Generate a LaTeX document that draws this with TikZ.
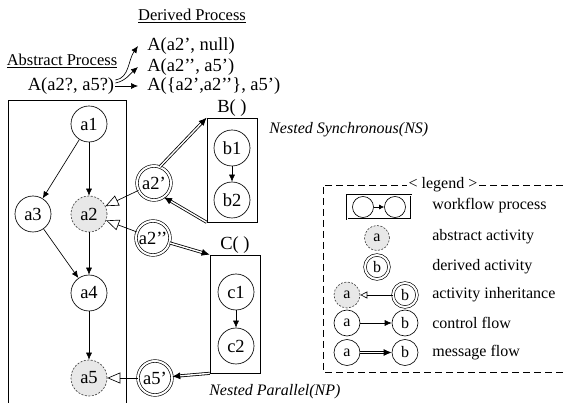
\documentclass[tikz,border=0pt]{standalone}
\usepackage{fontspec}
\setmainfont{Liberation Serif}
\usetikzlibrary{arrows.meta,positioning}

\begin{document}
\begin{tikzpicture}[x=1pt,y=-1pt,line width=0.65pt]
\tikzstyle{every node}+=[inner sep=0pt,font=\fontsize{18.5}{20}\selectfont]
\tikzstyle{txt}=[inner sep=1pt]
\tikzstyle{head}=[txt,font=\fontsize{16.5}{18}\selectfont]
\tikzstyle{note}=[txt,anchor=west,font=\fontsize{16}{18}\selectfont\itshape]
\tikzstyle{lgdtxt}=[txt,anchor=west,font=\fontsize{16}{18}\selectfont]
\tikzstyle{act}=[draw,circle,minimum size=36pt]
\tikzstyle{absact}=[act,draw=black!75,dash pattern=on 2pt off 1.5pt,fill=black!9]
\tikzstyle{der}=[act,double,double distance=2pt,minimum size=34pt]
\tikzstyle{proc}=[draw,rectangle]
\tikzstyle{small}=[minimum size=26pt,font=\fontsize{16}{18}\selectfont]
\tikzstyle{ctrl}=[-{Latex[length=7pt,width=6pt]}]
\tikzstyle{msg}=[line width=0.8pt,double,double distance=1.4pt,-{Latex[length=8pt,width=7pt]}]
\tikzstyle{inh}=[-{Triangle[open,length=13pt,width=11pt]}]
\tikzstyle{lgd}=[dash pattern=on 7pt off 4pt]
\useasboundingbox (0,0) rectangle (563,403);

\node[head] (derp) at (192,16) {\underline{Derived Process}};
\node[head] (absp) at (62,61) {\underline{Abstract Process}};
\node[txt] (absA) at (71,86) {A(a2?, a5?)};
\node[txt,anchor=west,inner xsep=9pt] (d1) at (138,46) {A(a2’, null)};
\node[txt,anchor=west,inner xsep=9pt] (d2) at (138,67) {A(a2’’, a5’)};
\node[txt,anchor=west,inner xsep=9pt] (d3) at (138,86) {A(\{a2’,a2’’\}, a5’)};
\draw[ctrl] ([yshift=6pt]absA.east) .. controls +(14,-2) and +(-10,14) .. (d1.west);
\draw[ctrl] ([yshift=3pt]absA.east) .. controls +(10,-2) and +(-8,7) .. (d2.west);
\draw[ctrl] (absA.east) -- (d3.west);

\draw (8,403) -- (8,100) -- (126,100) -- (126,403);
\node[act] (a1) at (89,124) {a1};
\node[act] (a3) at (33,214) {a3};
\node[absact] (a2) at (89,214) {a2};
\node[act] (a4) at (89,293) {a4};
\node[absact] (a5) at (89,378) {a5};
\draw[ctrl] (a1) -- (a3);
\draw[ctrl] (a1) -- (a2);
\draw[ctrl] (a3) -- (a4);
\draw[ctrl] (a2) -- (a4);
\draw[ctrl] (a4) -- (a5);

\node[der] (a2p) at (154,183) {a2’};
\node[der] (a2pp) at (153,238) {a2’’};
\node[der] (a5p) at (155,378) {a5’};
\draw[inh] (a2p) -- (a2);
\draw[inh] (a2pp) -- (a2);
\draw[inh] (a5p) -- (a5);

\node[proc,minimum width=50pt,minimum height=104pt] (B) at (232,170) {};
\node[txt,above=0pt of B] (Bl) {B( )};
\node[act] (b1) at (232,148) {b1};
\node[act] (b2) at (232,200) {b2};
\draw[ctrl] (b1) -- (b2);
\node[proc,minimum width=50pt,minimum height=118pt] (C) at (235,314) {};
\node[txt,above=0pt of C] (Cl) {C( )};
\node[act] (c1) at (236,292) {c1};
\node[act] (c2) at (236,346) {c2};
\draw[ctrl] (c1) -- (c2);
\draw[msg] (a2p.70) -- (B.north west);
\draw[msg] (B.south west) -- (a2p.-55);
\draw[msg] (a2pp) -- (C.north west);
\draw[msg] (C.south west) -- (a5p);

\node[note] (ns) at (268,130) {Nested Synchronous(NS)};
\node[note] (np) at (208,392) {Nested Parallel(NP)};

\draw[lgd] (563,185) -- (323,185) -- (323,372) -- (563,372);
\node[lgdtxt,anchor=center,fill=white,inner xsep=2pt] (lgdl) at (443,185) {< legend >};
\node[proc,double,double distance=0.8pt,minimum width=64pt,minimum height=24pt] (wf) at (379,207) {};
\node[act,minimum size=21pt] (wf1) at (363,207) {};
\node[act,minimum size=21pt] (wf2) at (395,207) {};
\draw[-{Latex[length=5pt,width=5pt]}] (wf1) -- (wf2);
\node[absact,small,minimum size=25pt] (la) at (377,238) {a};
\node[der,small,minimum size=24pt] (lb) at (377,267) {b};
\node[absact,small] (ia) at (347,295) {a};
\node[der,small,minimum size=24pt] (ib) at (405,295) {b};
\draw[-{Triangle[open,length=7pt,width=7pt]}] (ib) -- (ia);
\node[act,small] (ca) at (347,323) {a};
\node[act,small] (cb) at (405,323) {b};
\draw[ctrl] (ca) -- (cb);
\node[act,small] (ma) at (347,352.5) {a};
\node[act,small] (mb) at (405,352.5) {b};
\draw[msg] (ma) -- (mb);
\node[lgdtxt] (t1) at (431,206) {workflow process};
\node[lgdtxt] (t2) at (431,237) {abstract activity};
\node[lgdtxt] (t3) at (431,267) {derived activity};
\node[lgdtxt] (t4) at (431,295) {activity inheritance};
\node[lgdtxt] (t5) at (431,323) {control flow};
\node[lgdtxt] (t6) at (431,353) {message flow};
\end{tikzpicture}
\end{document}
